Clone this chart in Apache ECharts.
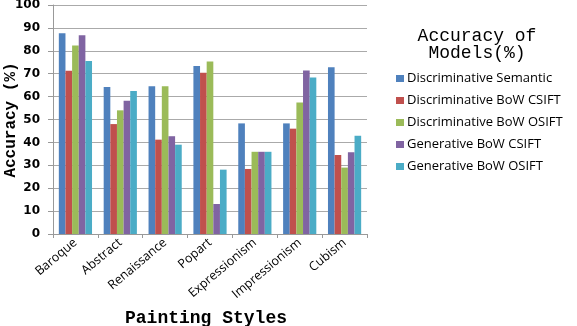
<!DOCTYPE html>
<html>
<head>
<meta charset="utf-8">
<script src="https://cdn.jsdelivr.net/npm/echarts@6/dist/echarts.min.js"></script>
<style>
  html, body { margin: 0; padding: 0; background: #fff; }
  #chart { width: 577px; height: 326px; }
</style>
</head>
<body>
<div id="chart"></div>
<script>
  // painting styles on the x axis
  var styles = ['Baroque', 'Abstract', 'Renaissance', 'Popart', 'Expressionism', 'Impressionism', 'Cubism'];
  var yTicks = [0, 10, 20, 30, 40, 50, 60, 70, 80, 90, 100];

  // accuracy (%) per model
  var discSemantic = [87.7, 64.2, 64.5, 73.4, 48.3, 48.3, 72.8];
  var discBowCsift = [71.3, 48.0, 41.2, 70.4, 28.4, 46.0, 34.5];
  var discBowOsift = [82.3, 54.0, 64.5, 75.3, 35.9, 57.4, 29.0];
  var genBowCsift  = [86.8, 58.2, 42.7, 13.1, 35.9, 71.4, 35.7];
  var genBowOsift  = [75.5, 62.5, 39.0, 28.1, 35.9, 68.3, 42.9];

  var names = ['Discriminative Semantic', 'Discriminative BoW CSIFT', 'Discriminative BoW OSIFT', 'Generative BoW CSIFT', 'Generative BoW OSIFT'];
  var values = [discSemantic, discBowCsift, discBowOsift, genBowCsift, genBowOsift];
  var colorList = ['#4F81BD', '#C0504D', '#9BBB59', '#8064A2', '#4BACC6'];

  var seriesData = [];
  for (var i = 0; i < names.length; i++) {
    seriesData.push({
      name: names[i],
      type: 'bar',
      data: values[i],
      barGap: '0%',
      barCategoryGap: '26%',
      itemStyle: { color: colorList[i] }
    });
  }

  var myChart = echarts.init(document.getElementById('chart'));
  myChart.setOption({
    animation: false,
    title: {
      text: 'Accuracy of\nModels(%)',
      left: 472,
      top: 23,
      textAlign: 'center',
      textStyle: {
        fontFamily: 'Liberation Mono',
        fontWeight: 'normal',
        fontSize: 18,
        lineHeight: 17,
        color: '#000'
      }
    },
    legend: {
      orient: 'vertical',
      left: 391,
      top: 67,
      itemWidth: 8,
      itemHeight: 7,
      itemGap: 9,
      icon: 'rect',
      data: names,
      textStyle: {
        fontFamily: 'Open Sans',
        fontSize: 13,
        color: '#000',
        padding: [0, 0, 0, -2]
      }
    },
    // axis names placed by hand (x name sits left of the plot centre)
    graphic: [{
      type: 'text',
      left: 125,
      top: 309,
      style: {
        text: 'Painting Styles',
        fontFamily: 'Liberation Mono',
        fontWeight: 'bold',
        fontSize: 18,
        fill: '#000'
      }
    }, {
      type: 'text',
      x: 11,
      y: 120,
      rotation: Math.PI / 2,
      style: {
        text: 'Accuracy (%)',
        align: 'center',
        verticalAlign: 'middle',
        fontFamily: 'Liberation Mono',
        fontWeight: 'bold',
        fontSize: 16,
        fill: '#000'
      }
    }],
    grid: {
      left: 53,
      right: 210,
      top: 5,
      bottom: 92,
      outerBoundsMode: 'none',
      containLabel: false
    },
    xAxis: {
      type: 'category',
      data: styles,
      axisLine: { lineStyle: { color: '#999', width: 1 } },
      axisTick: { show: true, length: 4, lineStyle: { color: '#999' } },
      axisLabel: {
        interval: 0,
        rotate: 40,
        margin: 7,
        fontFamily: 'Open Sans',
        fontSize: 12.5,
        color: '#000'
      }
    },
    yAxis: {
      type: 'value',
      min: yTicks[0],
      max: yTicks[yTicks.length - 1],
      interval: 10,
      axisLine: { show: true, lineStyle: { color: '#999', width: 1 } },
      axisTick: { show: true, length: 5, lineStyle: { color: '#999' } },
      axisLabel: {
        margin: 13,
        fontFamily: 'DejaVu Sans',
        fontWeight: 'bold',
        fontSize: 12,
        color: '#000'
      },
      splitLine: { lineStyle: { color: '#aaa', width: 1 } }
    },
    series: seriesData
  });
</script>
</body>
</html>
